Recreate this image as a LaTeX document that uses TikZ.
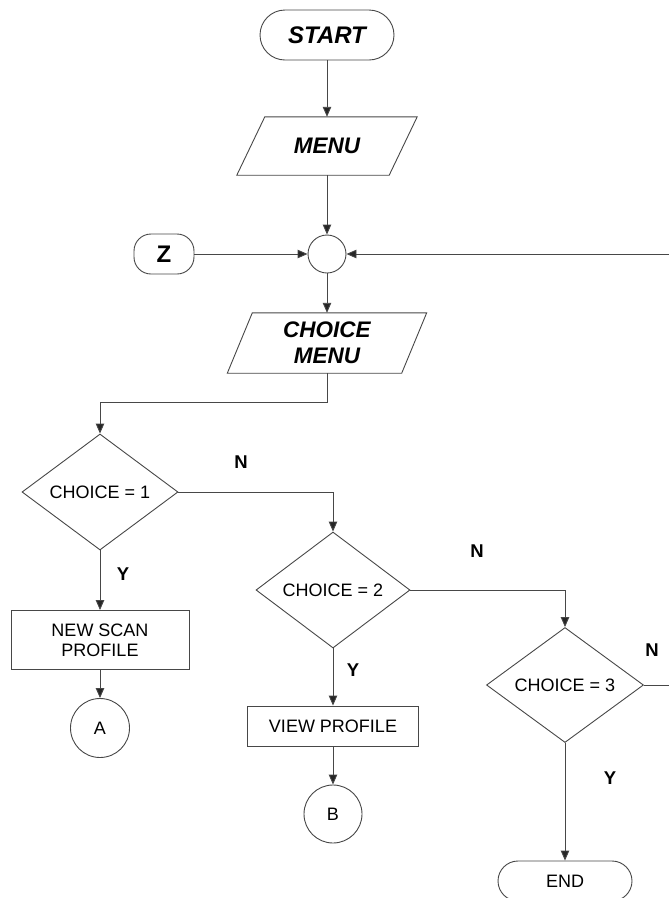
\documentclass[tikz,border=0pt]{standalone}
\usepackage{fontspec}
\setmainfont{Liberation Sans}
\usetikzlibrary{shapes.geometric,shapes.misc,arrows.meta}
\begin{document}
\begin{tikzpicture}[x=1pt,y=-1pt,
  ln/.style={draw=black!72, line width=0.9pt},
  arr/.style={ln, -{Triangle[length=10pt,width=8.5pt,fill=black!85]}},
  term/.style={rounded rectangle, ln, fill=white, minimum width=134pt, minimum height=50pt, inner sep=0pt},
  iobox/.style={rectangle, inner sep=0pt, align=center, font=\fontsize{22.5}{26}\selectfont\bfseries\itshape},
  dec/.style={diamond, ln, minimum width=156pt, minimum height=116pt, inner sep=0pt, font=\fontsize{18}{20}\selectfont},
  proc/.style={rectangle, ln, align=center, inner sep=0pt, font=\fontsize{18}{20}\selectfont},
  conn/.style={circle, ln, inner sep=0pt, font=\fontsize{18}{20}\selectfont},
  lab/.style={inner sep=0pt, font=\fontsize{18.5}{20}\selectfont\bfseries}]
\useasboundingbox (0,0) rectangle (669,898);

% nodes
\node[term, font=\fontsize{24}{26}\selectfont\bfseries\itshape] (start) at (327,35) {START};
\node[iobox, minimum width=180pt, minimum height=58pt] (menu) at (327,146) {MENU};
\draw[ln] ([xshift=28pt]menu.north west) -- (menu.north east) -- ([xshift=-28pt]menu.south east) -- (menu.south west) -- cycle;
\node[conn, minimum size=38pt] (jn) at (327,254) {};
\node[rectangle, ln, rounded corners=17pt, minimum width=60pt, minimum height=40pt, inner sep=0pt, font=\fontsize{24}{26}\selectfont\bfseries] (z) at (164,254) {Z};
\node[iobox, minimum width=199pt, minimum height=60pt] (cm) at (327,343) {CHOICE\\MENU};
\draw[ln] ([xshift=25pt]cm.north west) -- (cm.north east) -- ([xshift=-25pt]cm.south east) -- (cm.south west) -- cycle;

\node[dec] (c1) at (100,492) {CHOICE = 1};
\node[proc, minimum width=178pt, minimum height=59pt] (nsp) at (100,640) {NEW SCAN\\PROFILE};
\node[conn, minimum size=59pt] (a) at (100,728) {A};

\node[dec, minimum width=154pt] (c2) at (333,590) {CHOICE = 2};
\node[proc, minimum width=171pt, minimum height=40pt] (vp) at (333,726) {VIEW PROFILE};
\node[conn, minimum size=58pt] (b) at (333,814) {B};

\node[dec, minimum width=157pt, minimum height=115pt] (c3) at (565,685) {CHOICE = 3};
\node[term, minimum height=40pt, font=\fontsize{18}{20}\selectfont] (end) at (565,881) {END};

\coordinate (loopA) at (672,685);
\coordinate (loopB) at (672,254);

% labels
\node[lab] (n1) at (241,462) {N};
\node[lab] (y1) at (123,574) {Y};
\node[lab] (n2) at (477,551) {N};
\node[lab] (y2) at (353,670) {Y};
\node[lab] (n3) at (652,650) {N};
\node[lab] (y3) at (610,778) {Y};

% connectors
\draw[arr] (start.south) -- (menu.north);
\draw[arr] (menu.south) -- (jn.north);
\draw[arr] (z.east) -- (jn.west);
\draw[arr] (c3.east) -- (loopA) -- (loopB) -- (jn.east);
\draw[arr] (jn.south) -- (cm.north);
\draw[arr] (cm.south) -- ++(0,29) -| (c1.north);
\draw[arr] (c1.east) -| (c2.north);
\draw[arr] (c1.south) -- (nsp.north);
\draw[arr] (nsp.south) -- (a.north);
\draw[arr] (c2.south) -- (vp.north);
\draw[arr] (vp.south) -- (b.north);
\draw[arr] (c2.east) -| (c3.north);
\draw[arr] (c3.south) -- (end.north);
\end{tikzpicture}
\end{document}
